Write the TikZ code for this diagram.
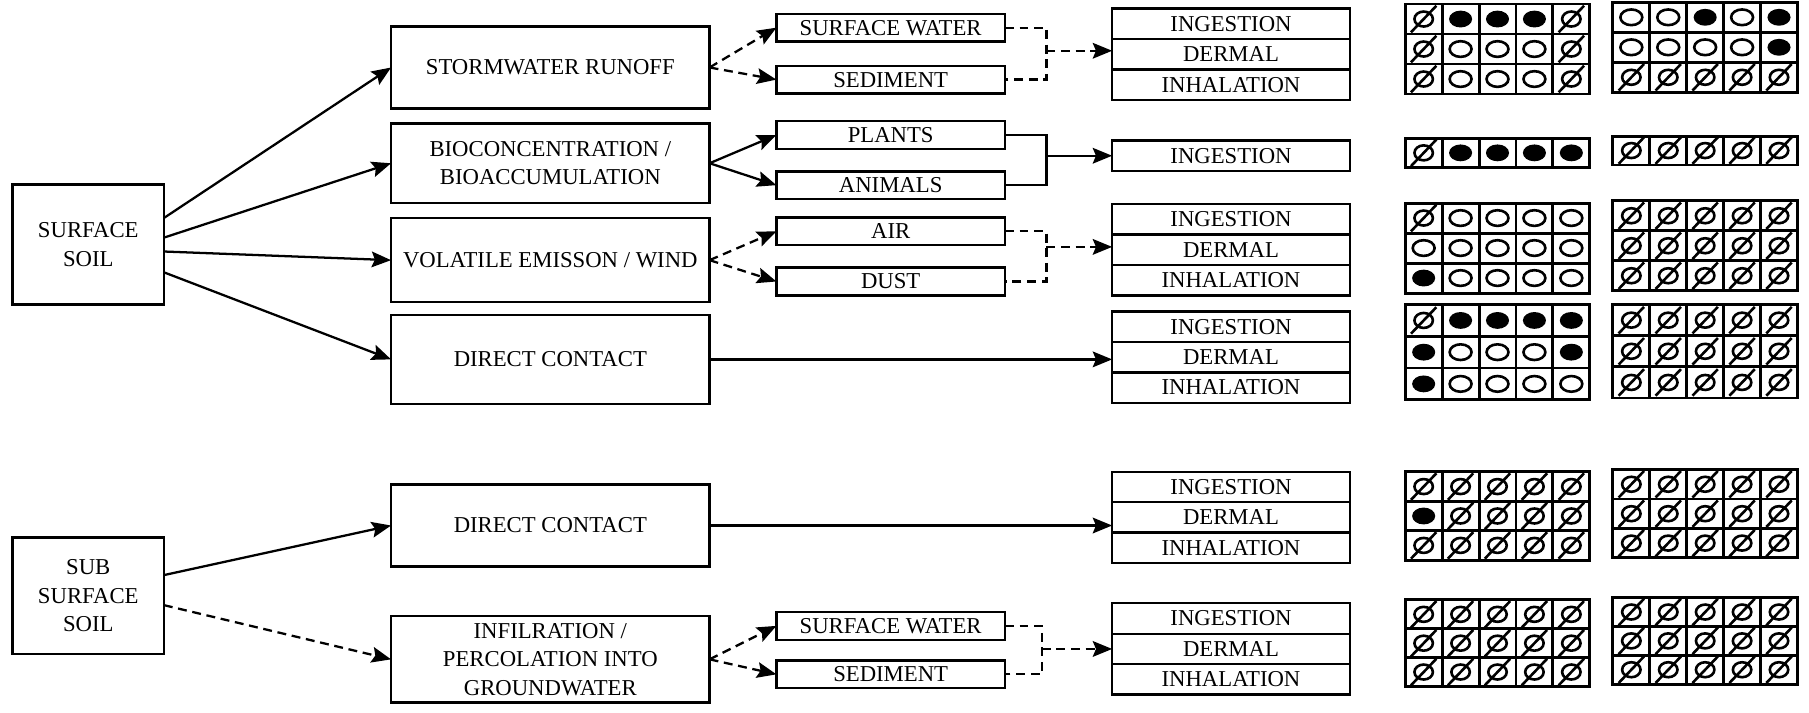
\documentclass[tikz,border=0pt]{standalone}
\usepackage{fontspec}
\setmainfont{Liberation Serif}
\usetikzlibrary{arrows.meta,positioning}

\tikzset{
  box/.style={draw, line width=1.5pt, align=center, inner sep=1pt, outer sep=0pt,
    font=\fontsize{14}{17.5}\selectfont},
  srcbox/.style={box, minimum width=3.275cm, minimum height=2.6cm},
  pathbox/.style={box, minimum width=6.9cm, minimum height=1.8cm},
  mediabox/.style={box, minimum width=4.95cm, minimum height=0.6cm},
  routebox/.style={box, minimum width=5.15cm, minimum height=0.66cm},
  conn/.style={line width=1.4pt, -{Stealth[inset=0.7mm, length=4.2mm, width=3.4mm]}},
  dashedline/.style={line width=1.4pt, dash pattern=on 5.5pt off 3.5pt},
  gridline/.style={line width=1.8pt},
  markline/.style={line width=1.6pt},
}

\newcommand\mkz{\draw[markline] (0,0) ellipse [x radius=8, y radius=6.5] (-11,11.5) -- (11,-11.5);}
\newcommand\mkf{\fill (0,0) ellipse [x radius=10, y radius=7.3];}
\newcommand\mko{\draw[markline] (0,0) ellipse [x radius=9.5, y radius=6.8];}
\newcommand\markgrid[4]{%
  \foreach \row [count=\j from 0] in {#4} {
    \foreach \s [count=\i from 0] in \row {
      \draw[gridline] (#1+32*\i,#2+#3*\j) rectangle ++(32,#3);
      \begin{scope}[shift={(#1+16+32*\i,#2+#3*\j+#3/2)}]
        \csname mk\s\endcsname
      \end{scope}
    }
  }
}

\begin{document}
\begin{tikzpicture}[x=0.025cm, y=-0.025cm]
\useasboundingbox (0,0) rectangle (1568,618);

% sources
\node[srcbox] (ss) at (76.5,212) {SURFACE\\SOIL};
\node[srcbox, minimum height=2.525cm] (sss) at (76.5,516.5) {SUB\\SURFACE\\SOIL};

% release mechanisms
\node[pathbox, minimum height=1.775cm] (sr) at (477,58.5) {STORMWATER RUNOFF};
\node[pathbox, minimum height=1.725cm] (bio) at (477,141.5) {BIOCONCENTRATION /\\BIOACCUMULATION};
\node[pathbox, minimum height=1.825cm] (vol) at (477,225.5) {VOLATILE EMISSON / WIND};
\node[pathbox, minimum height=1.925cm] (dc) at (477,311.5) {DIRECT CONTACT};
\node[pathbox, minimum height=1.775cm] (dcsub) at (477,455.5) {DIRECT CONTACT};
\node[pathbox, minimum height=1.875cm] (inf) at (477,571.5) {INFILRATION /\\PERCOLATION INTO\\GROUNDWATER};

% media
\node[mediabox] (sw) at (772,24) {SURFACE WATER};
\node[mediabox] (sed) at (772,69) {SEDIMENT};
\node[mediabox] (plants) at (772,117) {PLANTS};
\node[mediabox] (animals) at (772,160.5) {ANIMALS};
\node[mediabox] (air) at (772,200.5) {AIR};
\node[mediabox] (dust) at (772,244) {DUST};
\node[mediabox] (swsub) at (772,542.5) {SURFACE WATER};
\node[mediabox] (sedsub) at (772,584.5) {SEDIMENT};

% exposure routes
\foreach \g/\y in {1/47, 3/216.5, 4/309.5, 5/448.5, 6/562.5} {
  \node[routebox] (der\g) at (1067,\y) {DERMAL};
  \node[routebox, above=0pt of der\g] (ing\g) {INGESTION};
  \node[routebox, below=0pt of der\g] (inh\g) {INHALATION};
}
\node[routebox] (ing2) at (1067,135) {INGESTION};

\draw[conn] ([yshift=0.575cm]ss.east) -- (sr.west);
\draw[conn] ([yshift=0.15cm]ss.east) -- (bio.west);
\draw[conn] ([yshift=-0.15cm]ss.east) -- (vol.west);
\draw[conn] ([yshift=-0.6cm]ss.east) -- (dc.west);
\draw[conn] ([yshift=0.45cm]sss.east) -- (dcsub.west);
\draw[conn, dashedline] ([yshift=-0.2cm]sss.east) -- (inf.west);

\draw[conn, dashedline] (sr.east) -- (sw.west);
\draw[conn, dashedline] (sr.east) -- (sed.west);
\draw[conn] (bio.east) -- (plants.west);
\draw[conn] (bio.east) -- (animals.west);
\draw[conn, dashedline] (vol.east) -- (air.west);
\draw[conn, dashedline] (vol.east) -- (dust.west);
\draw[conn, dashedline] (inf.east) -- (swsub.west);
\draw[conn, dashedline] (inf.east) -- (sedsub.west);

% joins into the routes
\coordinate (j1) at (907,44);
\coordinate (j2) at (907,135);
\coordinate (j3) at (907,214);
\coordinate (j6) at (903,562.5);
\draw[dashedline] (sw.east) -| (j1) |- (sed.east);
\draw[conn, dashedline] (j1) -- (j1 -| der1.west);
\draw[line width=1.4pt] (plants.east) -| (j2) |- (animals.east);
\draw[conn] (j2) -- (j2 -| ing2.west);
\draw[dashedline] (air.east) -| (j3) |- (dust.east);
\draw[conn, dashedline] (j3) -- (j3 -| der3.west);
\draw[dashedline] (swsub.east) -| (j6) |- (sedsub.east);
\draw[conn, dashedline] (j6) -- (j6 -| der6.west);
\draw[conn] (dc.east) -- (dc.east -| der4.west);
\draw[conn] (dcsub.east) -- (dcsub.east -| der5.west);

% receptor grids
\markgrid{1218}{3.5}{26}{{z,f,f,f,z},{z,o,o,o,z},{z,o,o,o,z}}
\markgrid{1398}{2}{26}{{o,o,f,o,f},{o,o,o,o,f},{z,z,z,z,z}}
\markgrid{1218}{120}{25}{{z,f,f,f,f}}
\markgrid{1398}{118}{25}{{z,z,z,z,z}}
\markgrid{1218}{176}{26}{{z,o,o,o,o},{o,o,o,o,o},{f,o,o,o,o}}
\markgrid{1398}{174}{26}{{z,z,z,z,z},{z,z,z,z,z},{z,z,z,z,z}}
\markgrid{1218}{264}{27.5}{{z,f,f,f,f},{f,o,o,o,f},{f,o,o,o,o}}
\markgrid{1398}{264}{27}{{z,z,z,z,z},{z,z,z,z,z},{z,z,z,z,z}}
\markgrid{1218}{409}{25.5}{{z,z,z,z,z},{f,z,z,z,z},{z,z,z,z,z}}
\markgrid{1398}{407}{25.5}{{z,z,z,z,z},{z,z,z,z,z},{z,z,z,z,z}}
\markgrid{1218}{520}{25}{{z,z,z,z,z},{z,z,z,z,z},{z,z,z,z,z}}
\markgrid{1398}{518}{25}{{z,z,z,z,z},{z,z,z,z,z},{z,z,z,z,z}}
\end{tikzpicture}
\end{document}
